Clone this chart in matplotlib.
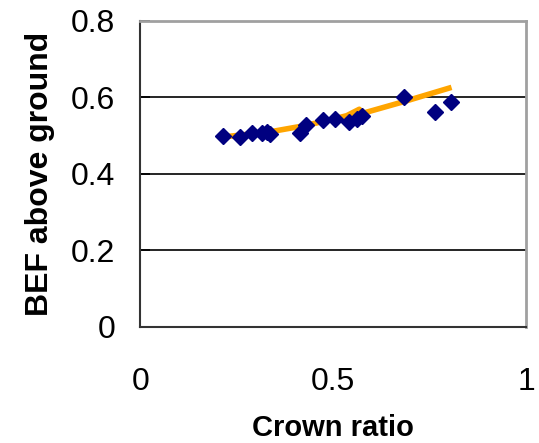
import matplotlib.pyplot as plt

# observed points
crown_ratio = [0.214, 0.259, 0.290, 0.315, 0.328, 0.337, 0.413, 0.430,
               0.475, 0.505, 0.542, 0.561, 0.574, 0.684, 0.764, 0.805]
bef = [0.498, 0.497, 0.507, 0.507, 0.509, 0.505, 0.507, 0.528,
       0.540, 0.543, 0.536, 0.543, 0.550, 0.602, 0.563, 0.588]

# fitted curve
fit_x = [0.220, 0.337, 0.415, 0.475, 0.535, 0.568, 0.572, 0.684, 0.800]
fit_y = [0.497, 0.510, 0.524, 0.537, 0.552, 0.569, 0.557, 0.589, 0.624]

plt.rcParams['font.family'] = ['Liberation Sans', 'DejaVu Sans']

fig = plt.figure(figsize=(5.39, 4.43), dpi=100)
ax = fig.add_axes([0.26, 0.262, 0.716, 0.691])

for y in [0.2, 0.4, 0.6]:
    ax.axhline(y, color="black", lw=1.2, zorder=1)

ax.plot(fit_x, fit_y, color="#FFA500", lw=4, zorder=2)
ax.plot(crown_ratio, bef, ls="none", marker="D", ms=8.5, color="#000080", zorder=3)

ax.set_xlim(0, 1)
ax.set_ylim(0, 0.8)
ax.set_xticks([0, 0.5, 1])
ax.set_xticklabels(["0", "0.5", "1"])
ax.set_yticks([0, 0.2, 0.4, 0.6, 0.8])
ax.set_yticklabels(["0", "0.2", "0.4", "0.6", "0.8"])
ax.tick_params(axis="x", length=0, pad=29, labelsize=23)
ax.tick_params(axis="y", direction="in", length=7, width=1.2, pad=18, labelsize=23)

for side in ["top", "right"]:
    ax.spines[side].set_color("#a0a0a0")
    ax.spines[side].set_linewidth(2)
for side in ["left", "bottom"]:
    ax.spines[side].set_color("#333333")
    ax.spines[side].set_linewidth(1.5)

ax.set_xlabel("Crown ratio", fontsize=21, fontweight="bold", labelpad=12)
ax.set_ylabel("BEF above ground", fontsize=23, fontweight="bold", labelpad=11)

fig.savefig("out.png")
